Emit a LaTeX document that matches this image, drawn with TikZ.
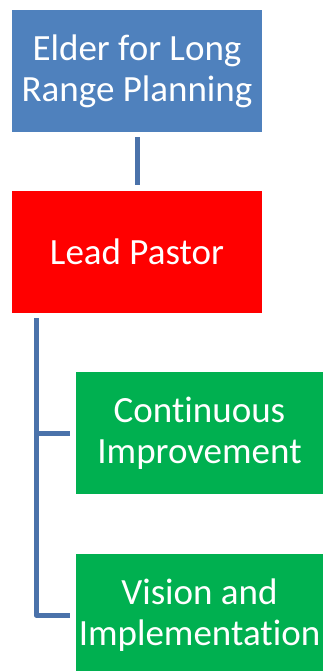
\documentclass[tikz,border=0pt]{standalone}
\usepackage{fontspec}
\setmainfont{Carlito}[Ligatures=NoCommon]
\definecolor{elderblue}{RGB}{79,129,189}
\definecolor{pastorred}{RGB}{255,0,0}
\definecolor{teamgreen}{RGB}{0,176,80}
\definecolor{linkblue}{RGB}{74,114,170}
\tikzset{
  box/.style={rectangle, inner sep=0pt, align=center, text=white,
    font=\fontsize{37}{41}\selectfont},
  link/.style={draw=linkblue, line width=5pt, line join=round}
}

\begin{document}
\begin{tikzpicture}[x=1pt, y=1pt]
    \useasboundingbox (0,0) rectangle (323,-671);
    \node[box, fill=elderblue, minimum width=250pt, minimum height=122pt] (elder) at (137,-71) {Elder for Long\\Range Planning};
    \node[box, fill=pastorred, minimum width=250pt, minimum height=122pt] (pastor) at (137,-252) {Lead Pastor};
    \node[box, fill=teamgreen, minimum width=247pt, minimum height=122pt] (improve) at (199.5,-433) {Continuous\\Improvement};
    \node[box, fill=teamgreen, minimum width=247pt, minimum height=122pt] (vision) at (199.5,-615) {Vision and\\Implementation};
    \coordinate (trunk) at (36,-313);

    \draw[link, shorten <=5pt, shorten >=6pt] (elder) -- (pastor);
    \draw[link, shorten <=5pt, shorten >=6pt] (trunk) |- (improve.west);
    \draw[link, shorten <=5pt, shorten >=6pt] (trunk) |- (vision.west);
  \end{tikzpicture}
\end{document}
